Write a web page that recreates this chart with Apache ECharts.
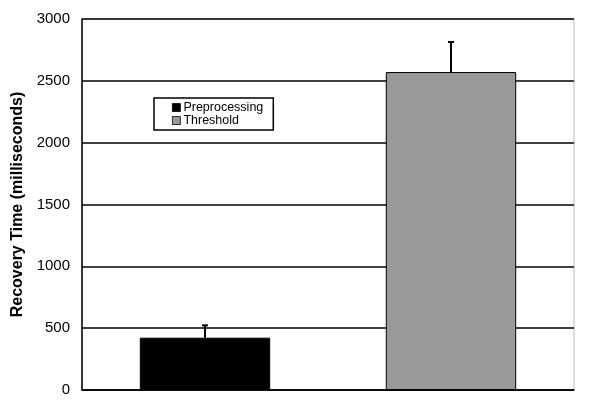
<!DOCTYPE html>
<html>
<head>
<meta charset="utf-8">
<script src="https://cdn.jsdelivr.net/npm/echarts@6/dist/echarts.min.js"></script>
<style>html,body{margin:0;padding:0;background:#fff}#c{width:600px;height:408px}</style>
</head>
<body>
<div id="c"></div>
<script>
const categories = ['Preprocessing', 'Threshold'];
const preprocessingValues = [423, '-'];
const thresholdValues = ['-', 2571];
const means = [423, 2571];
const errors = [100, 243];
const yTicks = { min: 0, max: 3000, interval: 500 };

const chart = echarts.init(document.getElementById('c'), null, { renderer: 'canvas' });
const font = 'Liberation Sans, Arial, Helvetica, sans-serif';
chart.setOption({
  animation: false,
  textStyle: { fontFamily: font },
  grid: { left: 82, right: 26, top: 19, bottom: 18, show: true, borderColor: '#bbbbbb', borderWidth: 1 },
  legend: {
    data: ['Preprocessing', 'Threshold'],
    orient: 'vertical',
    left: 154, top: 98,
    padding: [3, 10, 3, 18],
    itemGap: 0,
    itemWidth: 8, itemHeight: 8,
    icon: 'rect',
    borderColor: '#000', borderWidth: 1.5,
    textStyle: { color: '#000', fontSize: 12.5, fontFamily: font, padding: [0, 0, 0, -2] },
    itemStyle: { borderColor: '#000', borderWidth: 0.8 }
  },
  xAxis: {
    type: 'category',
    data: categories,
    axisLine: { lineStyle: { color: '#000', width: 1.5 } },
    axisTick: { show: false },
    axisLabel: { show: false }
  },
  yAxis: {
    type: 'value',
    min: yTicks.min, max: yTicks.max, interval: yTicks.interval,
    name: 'Recovery Time (milliseconds)',
    nameLocation: 'middle',
    nameGap: 54,
    nameTextStyle: { color: '#000', fontSize: 16, fontWeight: 'bold', fontFamily: font },
    axisLine: { show: true, lineStyle: { color: '#000', width: 1.5 } },
    axisTick: { show: false },
    axisLabel: { color: '#000', fontSize: 15, margin: 12, fontFamily: font, formatter: v => String(v) },
    splitLine: { lineStyle: { color: '#000', width: 1.5 } }
  },
  series: [
    {
      name: 'Preprocessing', type: 'bar', data: preprocessingValues,
      barWidth: '53%', barGap: '-100%',
      itemStyle: { color: '#000000', borderColor: '#000', borderWidth: 1 }
    },
    {
      name: 'Threshold', type: 'bar', data: thresholdValues,
      barWidth: '53%', barGap: '-100%',
      itemStyle: { color: '#999999', borderColor: '#000', borderWidth: 1 }
    },
    {
      name: 'error', type: 'custom',
      data: means.map((m, i) => [i, m, m + errors[i]]),
      renderItem: function (params, api) {
        const lo = api.coord([api.value(0), api.value(1)]);
        const hi = api.coord([api.value(0), api.value(2)]);
        const style = { stroke: '#000', lineWidth: 2 };
        return {
          type: 'group',
          children: [
            { type: 'line', shape: { x1: lo[0], y1: lo[1], x2: hi[0], y2: hi[1] }, style: style },
            { type: 'line', shape: { x1: hi[0] - 3, y1: hi[1], x2: hi[0] + 3, y2: hi[1] }, style: style }
          ]
        };
      },
      z: 5
    }
  ]
});
</script>
</body>
</html>
